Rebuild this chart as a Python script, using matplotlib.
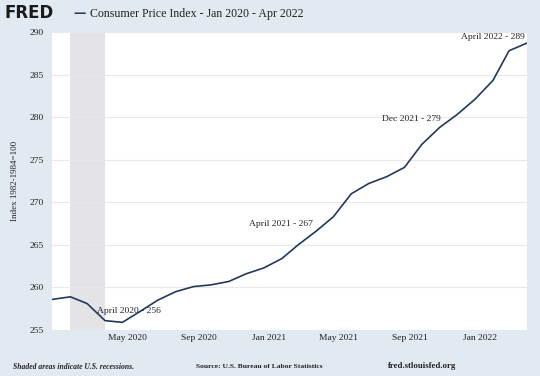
import pandas as pd
import matplotlib.pyplot as plt
import matplotlib.dates as mdates
from matplotlib.transforms import ScaledTranslation

# CPI values (monthly, Jan 2020 - Apr 2022)
months = pd.date_range('2020-01-01', '2022-04-01', freq='MS')
cpi = [258.6, 258.9, 258.1, 256.1, 255.9, 257.2, 258.5, 259.5, 260.1, 260.3,
       260.7, 261.6, 262.3, 263.4, 265.0, 266.6, 268.3, 271.0, 272.2, 273.0,
       274.1, 276.8, 278.8, 280.3, 282.1, 284.3, 287.8, 288.7]

recession_start = '2020-02-01'
recession_end = '2020-04-01'

y_ticks = [255, 260, 265, 270, 275, 280, 285, 290]
x_tick_dates = ['2020-05-01', '2020-09-01', '2021-01-01', '2021-05-01', '2021-09-01', '2022-01-01']

# annotations: (date of point, label)
notes_dates = ['2020-04-01', '2021-04-01', '2021-12-01', '2022-04-01']
notes_text = ['April 2020 - 256', 'April 2021 - 267', 'Dec 2021 - 279', 'April 2022 - 289']
notes_offsets = [(17, 6.8), (-25, 5), (-33, -3), (-24.5, 4.3)]

BG = '#e1e9f1'
LINE = '#21395a'
SERIF = ['Liberation Serif', 'DejaVu Serif']


def main():
    fig = plt.figure(figsize=(5.4, 3.76), dpi=100)
    fig.patch.set_facecolor(BG)
    ax = fig.add_axes([0.0972, 0.1223, 0.8787, 0.7926])
    ax.set_facecolor('white')

    ax.axvspan(pd.Timestamp(recession_start), pd.Timestamp(recession_end),
               color='#e3e3e8', lw=0, zorder=0)
    ax.plot(months, cpi, color=LINE, lw=1.2, zorder=3)

    ax.set_xlim(months[0], months[-1])
    ax.set_ylim(255, 290)
    ax.set_yticks(y_ticks)
    ax.set_xticks([pd.Timestamp(d) for d in x_tick_dates])
    ax.xaxis.set_major_formatter(mdates.DateFormatter('%b %Y'))
    ax.grid(axis='y', color='#e8e8e8', lw=0.8)
    ax.set_axisbelow(True)
    for s in ax.spines.values():
        s.set_visible(False)
    ax.tick_params(length=0, pad=3, labelsize=6.8, colors='#222222')
    for lab in ax.get_xticklabels() + ax.get_yticklabels():
        lab.set_family(SERIF)
    ax.tick_params(axis='y', pad=6)
    for lab in ax.get_xticklabels():
        lab.set_transform(lab.get_transform() + ScaledTranslation(0.05, 0, fig.dpi_scale_trans))

    ax.set_ylabel('Index 1982-1984=100', family=SERIF, fontsize=6.5, color='#222222', labelpad=8)

    for d, t, off in zip(notes_dates, notes_text, notes_offsets):
        i = list(months).index(pd.Timestamp(d))
        ax.annotate(t, xy=(months[i], cpi[i]), xytext=off, textcoords='offset points',
                    ha='center', va='center', family=SERIF, fontsize=6.8, color='#222222')

    # header
    fig.text(0.008, 0.965, 'FRED', family='DejaVu Sans', weight='bold', fontsize=12,
             color='#1b1b1b', va='center', ha='left')
    fig.text(0.135, 0.963, '\u2014', color=LINE, fontsize=9, va='center', ha='left',
             family='DejaVu Sans', weight='bold')
    fig.text(0.166, 0.963, 'Consumer Price Index - Jan 2020 - Apr 2022', family=SERIF,
             fontsize=8.6, color='#222222', va='center', ha='left')

    # footer
    fig.text(0.024, 0.024, 'Shaded areas indicate U.S. recessions.', family=SERIF,
             style='italic', weight='bold', fontsize=5.5, color='#222222', va='center')
    fig.text(0.363, 0.024, 'Source: U.S. Bureau of Labor Statistics', family=SERIF,
             weight='bold', fontsize=5.4, color='#222222', va='center')
    fig.text(0.718, 0.026, 'fred.stlouisfed.org', family=SERIF,
             weight='bold', fontsize=6.3, color='#222222', va='center')

    fig.savefig('out.png', dpi=100, facecolor=BG)


if __name__ == "__main__":
    main()
